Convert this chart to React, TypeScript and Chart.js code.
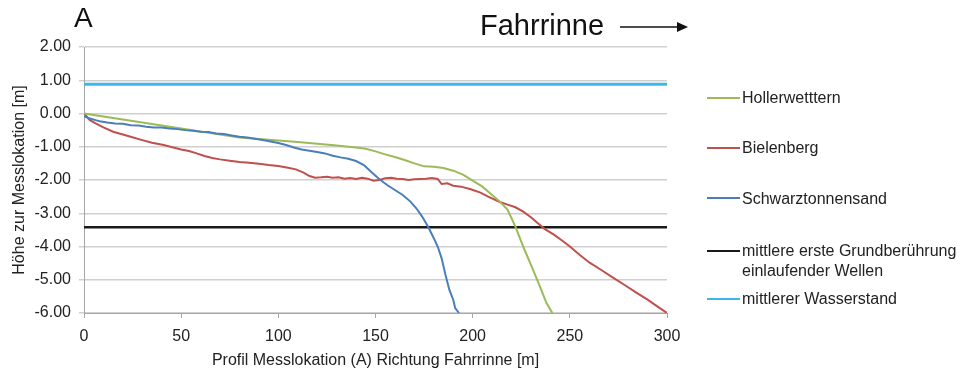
import React, { useEffect, useRef } from "react";
import { Chart, registerables } from "chart.js";

Chart.register(...registerables);

// ---- Data ----
const xTicks = [0, 50, 100, 150, 200, 250, 300];
const yTicks = [-6, -5, -4, -3, -2, -1, 0, 1, 2];

const hollerX = [0, 10, 20, 30, 40, 50, 60, 70, 80, 90, 100, 110, 120, 130, 140, 145, 150, 155, 160, 165, 170, 175, 180, 185, 190, 195, 200, 205, 210, 214, 218, 222, 226, 230, 234, 238, 241];
const hollerY = [0, -0.09, -0.18, -0.27, -0.36, -0.45, -0.54, -0.63, -0.72, -0.77, -0.81, -0.86, -0.91, -0.96, -1.02, -1.06, -1.14, -1.23, -1.31, -1.4, -1.5, -1.59, -1.6, -1.64, -1.72, -1.84, -2.02, -2.2, -2.45, -2.65, -2.9, -3.4, -4.0, -4.55, -5.12, -5.7, -6.0];

const bielX = [0, 3, 6, 10, 15, 20, 24, 30, 35, 41, 46, 50, 54, 58, 62, 66, 70, 75, 80, 85, 90, 95, 100, 105, 109, 113, 116, 119, 122, 125, 128, 131, 134, 137, 140, 143, 146, 149, 152, 155, 158, 161, 164, 167, 170, 173, 176, 179, 182, 184, 187, 190, 194, 199, 204, 208, 214, 218, 222, 226, 230, 234, 237, 242, 246, 250, 255, 260, 266, 272, 278, 284, 290, 295, 300];
const bielY = [0, -0.2, -0.3, -0.42, -0.55, -0.63, -0.7, -0.8, -0.88, -0.95, -1.02, -1.08, -1.13, -1.2, -1.28, -1.34, -1.38, -1.42, -1.46, -1.48, -1.51, -1.55, -1.58, -1.63, -1.68, -1.78, -1.88, -1.93, -1.92, -1.9, -1.93, -1.92, -1.96, -1.94, -1.97, -1.93, -1.96, -2.02, -2.0, -1.95, -1.93, -1.96, -1.97, -2.0, -1.98, -1.97, -1.96, -1.94, -1.97, -2.12, -2.1, -2.17, -2.2, -2.28, -2.38, -2.5, -2.66, -2.74, -2.82, -2.95, -3.12, -3.32, -3.47, -3.65, -3.82, -4.0, -4.25, -4.48, -4.7, -4.93, -5.15, -5.38, -5.6, -5.8, -6.0];

const schwarzX = [0, 3, 6, 8, 12, 16, 20, 24, 28, 32, 36, 40, 44, 48, 52, 56, 60, 64, 68, 72, 76, 80, 84, 88, 92, 96, 100, 104, 108, 112, 116, 120, 124, 128, 132, 136, 140, 144, 148, 152, 156, 160, 164, 168, 171, 174, 177, 180, 182, 184, 186, 188, 190, 191, 193];
const schwarzY = [-0.08, -0.15, -0.2, -0.23, -0.27, -0.3, -0.31, -0.35, -0.36, -0.4, -0.42, -0.42, -0.45, -0.47, -0.5, -0.52, -0.55, -0.56, -0.6, -0.62, -0.66, -0.7, -0.72, -0.76, -0.8, -0.84, -0.89, -0.95, -1.02, -1.08, -1.12, -1.16, -1.2, -1.27, -1.32, -1.36, -1.43, -1.55, -1.77, -1.98, -2.15, -2.3, -2.45, -2.65, -2.85, -3.1, -3.4, -3.75, -4.0, -4.35, -4.85, -5.3, -5.6, -5.85, -6.0];

const refLineX = [0, 300];
const grundValue = -3.42;
const wasserValue = 0.88;

const FONT = "'Liberation Sans', Arial, Helvetica, sans-serif";
const TEXT = "#222222";

const legendItems = [
  { label: ["Hollerwetttern"], color: "#9BBB59", y: 97.5 },
  { label: ["Bielenberg"], color: "#C0504D", y: 148 },
  { label: ["Schwarztonnensand"], color: "#4A7EBB", y: 198.3 },
  { label: ["mittlere erste Grundberührung", "einlaufender Wellen"], color: "#1a1a1a", y: 250.5 },
  { label: ["mittlerer Wasserstand"], color: "#3DB7EA", y: 299 },
];

function pts(xs: number[], ys: number[]) {
  return xs.map((x, i) => ({ x, y: ys[i] }));
}

export default function App() {
  const ref = useRef<HTMLCanvasElement>(null);

  useEffect(() => {
    if (!ref.current) return;
    const chart = new Chart(ref.current, {
      type: "line",
      data: {
        datasets: [
          { label: "Schwarztonnensand", data: pts(schwarzX, schwarzY), borderColor: "#4A7EBB", borderWidth: 2 },
          { label: "Hollerwetttern", data: pts(hollerX, hollerY), borderColor: "#9BBB59", borderWidth: 2 },
          { label: "Bielenberg", data: pts(bielX, bielY), borderColor: "#C0504D", borderWidth: 2 },
          { label: "mittlere erste Grundberührung einlaufender Wellen", data: pts(refLineX, [grundValue, grundValue]), borderColor: "#1a1a1a", borderWidth: 2.5 },
          { label: "mittlerer Wasserstand", data: pts(refLineX, [wasserValue, wasserValue]), borderColor: "#3DB7EA", borderWidth: 3 },
        ],
      },
      options: {
        responsive: false,
        animation: false,
        layout: { padding: { left: 0, top: 47, right: 301, bottom: 0 } },
        plugins: { legend: { display: false }, tooltip: { enabled: false } },
        elements: { point: { radius: 0 }, line: { tension: 0 } },
        scales: {
          x: {
            type: "linear",
            min: 0,
            max: 300,
            afterBuildTicks: (s: any) => {
              s.ticks = xTicks.map((v) => ({ value: v }));
            },
            afterFit: (s: any) => {
              s.height = 58;
            },
            grid: { drawOnChartArea: false, drawTicks: true, tickLength: 5, color: "#a6a6a6", lineWidth: 1 },
            border: { color: "#a6a6a6", width: 1 },
            ticks: { font: { family: FONT, size: 16 }, color: TEXT, padding: 9, maxRotation: 0 },
            title: {
              display: true,
              text: "Profil Messlokation (A) Richtung Fahrrinne [m]",
              font: { family: FONT, size: 16 },
              color: TEXT,
              padding: { top: 4, bottom: 1 },
            },
          },
          y: {
            type: "linear",
            min: -6,
            max: 2,
            afterBuildTicks: (s: any) => {
              s.ticks = yTicks.map((v) => ({ value: v }));
            },
            afterFit: (s: any) => {
              s.width = 84;
            },
            grid: { drawOnChartArea: true, drawTicks: true, tickLength: 5, color: "#d0d0d0", lineWidth: 1.5 },
            border: { color: "#a6a6a6", width: 1 },
            ticks: {
              font: { family: FONT, size: 16 },
              color: TEXT,
              padding: 8,
              callback: (v: any) => Number(v).toFixed(2),
            },
            title: {
              display: true,
              text: "Höhe zur Messlokation [m]",
              font: { family: FONT, size: 16 },
              color: TEXT,
              padding: { top: 10, bottom: 0 },
            },
          },
        },
      },
    });
    return () => chart.destroy();
  }, []);

  return (
    <div style={{ position: "fixed", left: 0, top: 0, width: 968, height: 371, background: "#fff", fontFamily: FONT, color: TEXT }}>
      <canvas ref={ref} width={968} height={371} style={{ display: "block", position: "absolute", left: 0, top: 0 }} />
      <div style={{ position: "absolute", left: 74, top: 4, fontSize: 28, lineHeight: "28px", color: "#111" }}>A</div>
      <div style={{ position: "absolute", left: 480, top: 11, fontSize: 29, lineHeight: "29px", color: "#111" }}>Fahrrinne</div>
      <svg style={{ position: "absolute", left: 615, top: 17, overflow: "visible" }} width={80} height={20}>
        <line x1={5} y1={10} x2={64} y2={10} stroke="#111" strokeWidth={1.5} />
        <polygon points="62,5 73,10 62,15" fill="#111" />
      </svg>
      {legendItems.map((it, i) => (
        <div key={i}>
          <div style={{ position: "absolute", left: 707, top: it.y - 1, width: 33, height: 2, background: it.color }} />
          <div style={{ position: "absolute", left: 742, top: it.y - 9.8, fontSize: 16, lineHeight: "20px", whiteSpace: "nowrap" }}>
            {it.label.map((l, j) => (
              <div key={j}>{l}</div>
            ))}
          </div>
        </div>
      ))}
    </div>
  );
}
